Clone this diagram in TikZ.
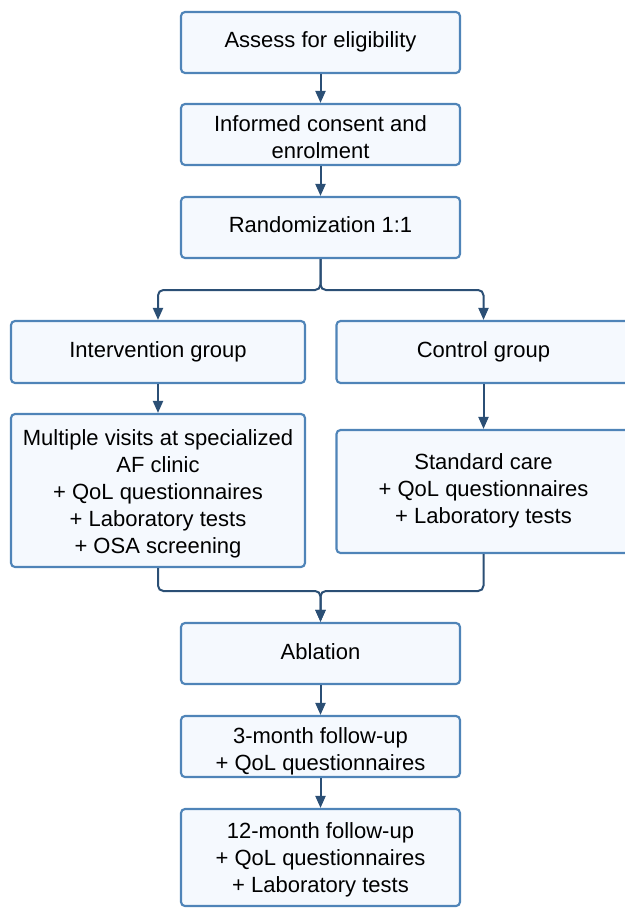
\documentclass[tikz,border=0pt]{standalone}
\usepackage{fontspec}
\setmainfont{Liberation Sans}
\usetikzlibrary{arrows.meta}
\definecolor{bordercol}{HTML}{4F84B8}
\definecolor{fillcol}{HTML}{F5F9FE}
\definecolor{conncol}{HTML}{2B4F75}
\newcommand{\boxtext}[1]{\begin{tabular}{@{}c@{}}#1\end{tabular}}
\tikzset{
  box/.style={draw=bordercol, fill=fillcol, line width=1.6pt, rounded corners=3pt,
    inner sep=0pt},
  midbox/.style={box, minimum width=209.25pt},
  sidebox/.style={box, minimum width=220.5pt},
  txt/.style={inner sep=0pt, font=\fontsize{16.5}{20.25}\selectfont, text=black},
  conn/.style={draw=conncol, line width=1.5pt, rounded corners=4pt,
    -{Triangle[length=9pt,width=7.5pt]}}
}
\begin{document}
\begin{tikzpicture}[x=0.75pt,y=-0.75pt]
\useasboundingbox (0,0) rectangle (625,908);
\clip (0,0) rectangle (625,908);
% boxes
\node[midbox, minimum height=45.75pt] (assess) at (320.5,42.5) {};
\node[midbox, minimum height=45.75pt] (consent) at (320.5,134.5) {};
\node[midbox, minimum height=45.75pt] (rand) at (320.5,227.5) {};
\node[sidebox, minimum height=46.5pt] (interv) at (158,352) {};
\node[sidebox, minimum height=46.5pt] (control) at (483.5,352) {};
\node[sidebox, minimum height=114.75pt] (multi) at (158,490.5) {};
\node[sidebox, minimum height=92.25pt] (std) at (483.5,491.5) {};
\node[midbox, minimum height=45.75pt] (abl) at (320.5,653.5) {};
\node[midbox, minimum height=45.75pt] (fu3) at (320.5,746.5) {};
\node[midbox, minimum height=72.75pt] (fu12) at (320.5,857.5) {};
% texts
\node[txt] (assess-t) at (320.5,42) {\boxtext{Assess for eligibility}};
\node[txt] (consent-t) at (320.5,140) {\boxtext{Informed consent and\\enrolment}};
\node[txt] (rand-t) at (320.5,227) {\boxtext{Randomization 1:1}};
\node[txt] (interv-t) at (158,352.5) {\boxtext{Intervention group}};
\node[txt] (control-t) at (483.5,352.5) {\boxtext{Control group}};
\node[txt] (multi-t) at (158,494.5) {\boxtext{Multiple visits at specialized\\AF clinic\\+ QoL questionnaires\\+ Laboratory tests\\+ OSA screening}};
\node[txt] (std-t) at (483.5,491.5) {\boxtext{Standard care\\+ QoL questionnaires\\+ Laboratory tests}};
\node[txt] (abl-t) at (320.5,654) {\boxtext{Ablation}};
\node[txt] (fu3-t) at (320.5,751.5) {\boxtext{3-month follow-up\\+ QoL questionnaires}};
\node[txt] (fu12-t) at (320.5,860) {\boxtext{12-month follow-up\\+ QoL questionnaires\\+ Laboratory tests}};
% connectors
\coordinate (split) at (320.5,290);
\coordinate (merge) at (320.5,591);
\draw[conn] (assess) -- (consent);
\draw[conn] (consent) -- (rand);
\draw[conn] (rand.south) -- (split) -| (interv.north);
\draw[conn] (rand.south) -- (split) -| (control.north);
\draw[conn] (interv) -- (multi);
\draw[conn] (control) -- (std);
\draw[conn] (multi.south) |- (merge) -- (abl.north);
\draw[conn] (std.south) |- (merge) -- (abl.north);
\draw[conn] (abl) -- (fu3);
\draw[conn] (fu3) -- (fu12);
\end{tikzpicture}
\end{document}
